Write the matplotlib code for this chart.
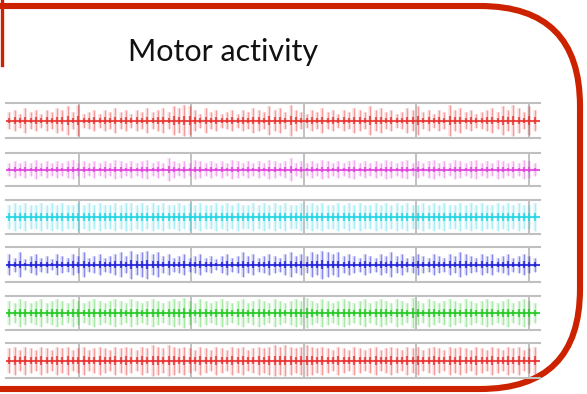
import numpy as np
import matplotlib
matplotlib.use("Agg")
import matplotlib.pyplot as plt
from matplotlib.patches import FancyBboxPatch
from matplotlib.lines import Line2D

TITLE = "Motor activity"
TRACE_COLORS = ["#e8302c", "#e040dc", "#20d4e4", "#1c1cd8", "#20c820", "#e82c2c"]
GRID_X = [1, 2, 3, 4, 5]

AMP_RED1 = [5, 6, 4, 7, 5, 6, 4, 6, 5, 7, 6, 8, 5, 9, 4, 5, 6, 4, 6, 5,
            7, 5, 6, 4, 6, 5, 7, 5, 6, 7, 5, 8, 7, 9, 8, 6, 4, 7, 5, 6,
            4, 5, 6, 4, 6, 5, 7, 6, 5, 8, 6, 7, 5, 9, 6, 5, 4, 6, 5, 7,
            5, 6, 4, 6, 5, 7, 6, 5, 8, 6, 7, 5, 6, 4, 5, 7, 6, 8, 5, 6,
            4, 6, 5, 9, 6, 7, 5, 6, 4, 5, 6, 7, 5, 8, 6, 9, 7, 5, 8, 6]
AMP_MAG = [4, 5, 4, 5, 4, 6, 4, 5, 4, 5, 4, 5, 6, 4, 5, 4, 5, 4, 5, 4,
           6, 5, 4, 5, 4, 5, 6, 4, 5, 4, 7, 5, 4, 5, 4, 6, 5, 4, 5, 4,
           5, 4, 6, 5, 4, 5, 4, 5, 4, 6, 5, 4, 5, 7, 4, 5, 4, 5, 4, 6,
           5, 4, 5, 4, 5, 6, 4, 5, 4, 5, 4, 6, 5, 4, 5, 6, 4, 5, 4, 5,
           6, 4, 5, 4, 6, 5, 4, 5, 6, 4, 5, 4, 6, 5, 4, 5, 4, 6, 5, 4]
AMP_CYAN = [7, 8, 7, 8, 7, 7, 8, 7, 8, 7, 8, 7, 7, 8, 7, 8, 7, 8, 7, 7,
            8, 7, 8, 8, 7, 8, 7, 8, 7, 8, 7, 7, 8, 7, 8, 7, 8, 7, 7, 8,
            7, 8, 7, 8, 7, 7, 8, 7, 8, 7, 8, 7, 8, 7, 7, 8, 7, 8, 7, 8,
            7, 7, 8, 7, 8, 7, 8, 7, 7, 8, 7, 8, 7, 8, 7, 8, 7, 7, 8, 7,
            8, 7, 8, 7, 7, 8, 7, 8, 7, 8, 7, 7, 8, 7, 8, 7, 8, 7, 7, 8]
AMP_BLUE = [6, 4, 7, 3, 5, 6, 4, 5, 3, 6, 5, 4, 6, 5, 7, 4, 5, 6, 4, 5,
            6, 7, 5, 8, 6, 7, 8, 6, 7, 5, 6, 4, 5, 6, 4, 5, 6, 4, 5, 3,
            5, 6, 4, 5, 7, 5, 6, 4, 5, 6, 5, 4, 6, 7, 5, 6, 5, 7, 6, 8,
            7, 6, 7, 5, 6, 5, 4, 6, 5, 4, 6, 5, 7, 5, 6, 4, 5, 6, 5, 4,
            6, 5, 4, 6, 5, 7, 6, 5, 4, 6, 5, 6, 4, 5, 6, 4, 5, 6, 5, 4]
AMP_GREEN = [7, 6, 8, 7, 6, 7, 8, 6, 7, 8, 7, 6, 8, 7, 6, 7, 8, 7, 6, 7,
             8, 7, 6, 8, 7, 6, 7, 8, 7, 6, 7, 8, 7, 9, 7, 6, 8, 7, 6, 7,
             8, 7, 6, 7, 8, 6, 7, 8, 7, 6, 8, 7, 6, 7, 8, 7, 9, 7, 6, 8,
             7, 6, 7, 8, 7, 6, 7, 8, 6, 7, 8, 7, 6, 8, 7, 6, 9, 7, 6, 8,
             7, 6, 7, 8, 7, 6, 8, 7, 6, 7, 8, 7, 6, 7, 8, 6, 7, 8, 7, 6]
AMP_RED6 = [7, 8, 6, 8, 7, 6, 8, 7, 6, 8, 7, 8, 6, 7, 8, 6, 7, 8, 7, 6,
            8, 7, 8, 7, 6, 8, 7, 9, 8, 7, 9, 8, 7, 8, 7, 6, 8, 7, 6, 8,
            7, 6, 8, 7, 8, 6, 7, 8, 7, 8, 9, 8, 9, 8, 7, 8, 9, 8, 7, 8,
            7, 6, 8, 7, 6, 8, 7, 6, 7, 8, 6, 7, 8, 7, 6, 8, 7, 8, 6, 7,
            8, 7, 6, 8, 7, 8, 7, 6, 8, 7, 6, 8, 7, 6, 8, 7, 8, 6, 7, 8]
TRACES = [AMP_RED1, AMP_MAG, AMP_CYAN, AMP_BLUE, AMP_GREEN, AMP_RED6]
SPIKE_ALPHA = [0.40, 0.35, 0.28, 0.45, 0.30, 0.40]

W, H = 587, 394
fig = plt.figure(figsize=(W / 100, H / 100), dpi=100)
bg = fig.add_axes([0, 0, 1, 1])
bg.set_xlim(0, W)
bg.set_ylim(H, 0)
bg.axis("off")

box = FancyBboxPatch((-200, 6), 780, 383,
                     boxstyle="round,pad=0,rounding_size=100",
                     facecolor="white", edgecolor="#cc2200", linewidth=4.4)
bg.add_patch(box)
bg.add_line(Line2D([1.5, 1.5], [0, 65], color="#cc2200", lw=2.4))

bg.text(223, 52, TITLE, ha="center", va="center", fontsize=22,
        family="Lato", color="#111111")

strips = [(103, 138), (153, 186), (200, 234), (247, 282), (296, 330), (343, 378)]
x0_px, x1_px = 6, 540
for (top, bot), amps, color, alpha in zip(strips, TRACES, TRACE_COLORS, SPIKE_ALPHA):
    ax = fig.add_axes([x0_px / W, 1 - bot / H, (x1_px - x0_px) / W, (bot - top) / H])
    ax.set_facecolor("none")
    ax.set_xlim(0.35, 5.1)
    ax.set_ylim(-1, 1)
    for s in ["left", "right"]:
        ax.spines[s].set_visible(False)
    for s in ["top", "bottom"]:
        ax.spines[s].set_color("#c0c0c0")
        ax.spines[s].set_linewidth(1.5)
    ax.set_xticks([])
    ax.set_yticks([])
    for g in GRID_X:
        ax.axvline(g, color="#b0b0b0", lw=1.1, zorder=1)
    a = np.asarray(amps, dtype=float) / 10.0
    t = 0.38 + np.arange(len(a)) * 0.0472
    ax.vlines(t, -a, a, color=color, lw=2.6, alpha=0.12, zorder=2)
    ax.vlines(t, -a, a, color=color, lw=1.0, alpha=alpha, zorder=2)
    ax.vlines(t, -a * 0.3, a * 0.3, color=color, lw=1.5, alpha=0.75, zorder=3)
    ax.axhline(0, color=color, lw=1.5, alpha=0.85, zorder=3)

fig.savefig("out.png", dpi=100)
